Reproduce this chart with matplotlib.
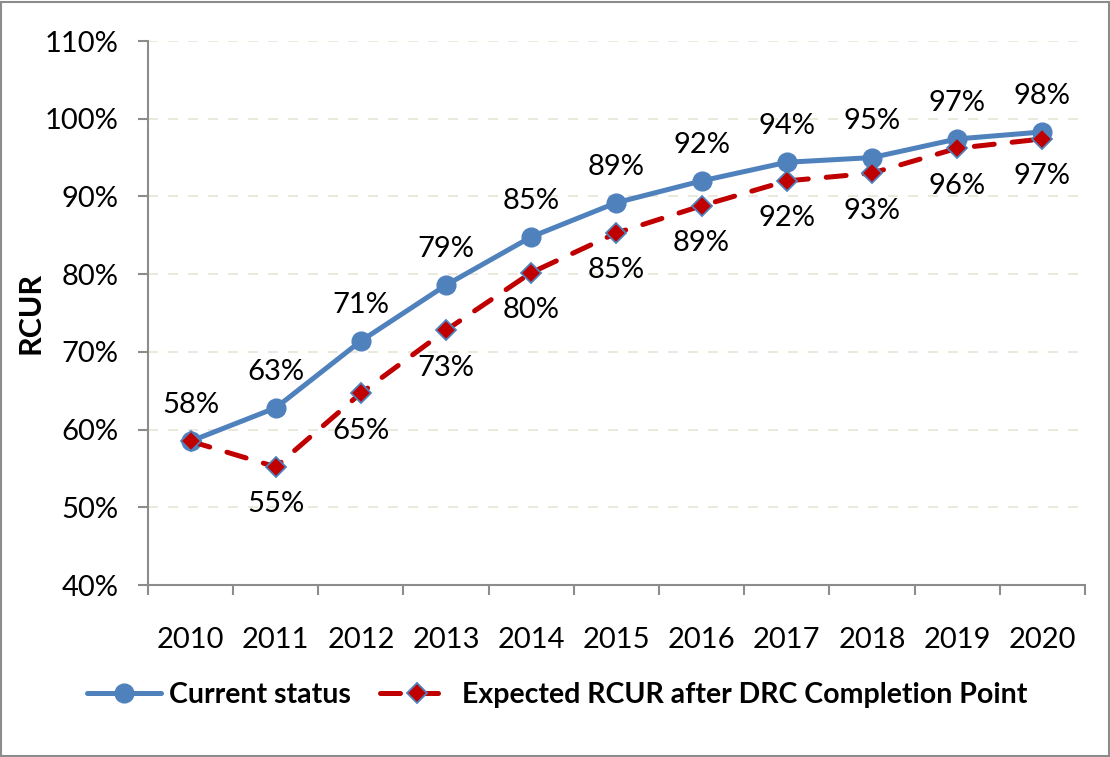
import matplotlib.pyplot as plt
from matplotlib.patches import Rectangle

plt.rcParams['font.family'] = ['Lato', 'DejaVu Sans']

years = ['2010', '2011', '2012', '2013', '2014', '2015', '2016', '2017', '2018', '2019', '2020']
current = [58.5, 62.8, 71.4, 78.6, 84.8, 89.2, 92.0, 94.4, 95.0, 97.4, 98.3]
expected = [58.5, 55.2, 64.7, 72.8, 80.2, 85.3, 88.8, 92.0, 93.0, 96.2, 97.4]
yticks = [40, 50, 60, 70, 80, 90, 100, 110]

blue = '#4F81BD'
red = '#C00000'
gray = '#8c8c8c'
fs = 21

fig = plt.figure(figsize=(11.1, 7.57), dpi=100)
ax = fig.add_axes([0.1333, 0.2272, 0.8441, 0.7186])

x = list(range(len(years)))
ax.plot(x, current, color=blue, lw=3.6, marker='o', ms=13.5,
        solid_capstyle='round', label='Current status', zorder=3)
ax.plot(x, expected, color=red, lw=3.6, linestyle=(0, (4.0, 3.6)),
        dash_capstyle='round', marker='D', ms=10.5, mfc=red, mec=blue, mew=1.3,
        label='Expected RCUR after DRC Completion Point', zorder=4)

# data labels: current above, expected below (2010 shares one label)
for i, v in enumerate(current):
    ax.annotate('%d%%' % round(v), (i, v), xytext=(0, 26), textcoords='offset points',
                ha='center', va='center', fontsize=fs)
for i, v in enumerate(expected):
    if i == 0:
        continue
    ax.annotate('%d%%' % round(v), (i, v), xytext=(0, -27), textcoords='offset points',
                ha='center', va='center', fontsize=fs)

ax.set_xlim(-0.5, len(years) - 0.5)
ax.set_ylim(40, 110)
ax.set_yticks(yticks)
ax.set_yticklabels(['%d%%' % t for t in yticks], fontsize=fs)
ax.set_xticks(x)
ax.set_xticklabels(years, fontsize=fs)
ax.set_xticks([i - 0.5 for i in range(len(years) + 1)], minor=True)
ax.tick_params(axis='x', which='major', length=0, pad=30)
ax.tick_params(axis='x', which='minor', length=7, width=1.5, color=gray, direction='out')
ax.tick_params(axis='y', length=7, width=1.5, color=gray, pad=14)

ax.grid(axis='y', color='#e8e4d6', linestyle=(0, (6, 6)), lw=1.2)
ax.set_axisbelow(True)
for s in ['top', 'right']:
    ax.spines[s].set_visible(False)
for s in ['left', 'bottom']:
    ax.spines[s].set_color(gray)
    ax.spines[s].set_linewidth(1.5)

ax.set_ylabel('RCUR', fontsize=fs + 1, fontweight='bold')
ax.yaxis.set_label_coords(-0.11, 0.5)

fig.legend(loc='center', bbox_to_anchor=(0.502, 0.082), ncol=2, frameon=False,
           prop={'size': 20.5, 'weight': 'bold'}, handlelength=2.6,
           columnspacing=1.0, handletextpad=0.3)

fig.patches.append(Rectangle((0.001, 0.001), 0.998, 0.997, transform=fig.transFigure,
                             fill=False, edgecolor=gray, lw=1.5))

fig.savefig('out.png', dpi=100)
